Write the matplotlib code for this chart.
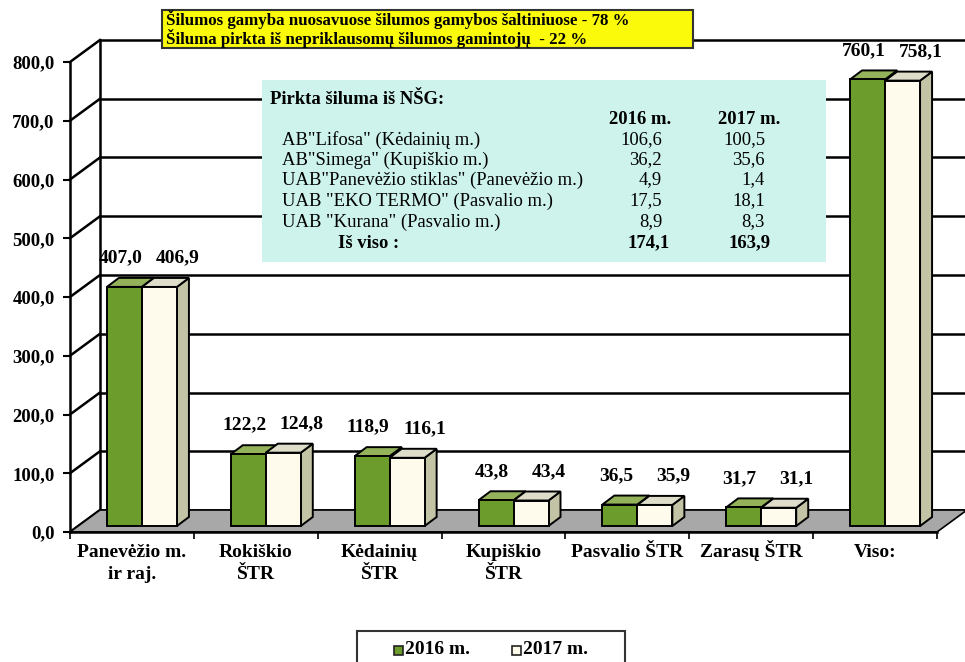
import matplotlib
matplotlib.use("Agg")
import matplotlib.pyplot as plt
from matplotlib.patches import Polygon, Rectangle
from matplotlib.transforms import blended_transform_factory
import numpy as np

# ---------------- data ----------------
categories = ["Panevėžio m.\nir raj.", "Rokiškio\nŠTR", "Kėdainių\nŠTR",
              "Kupiškio\nŠTR", "Pasvalio ŠTR", "Zarasų ŠTR", "Viso:"]
values_2016 = [407.0, 122.2, 118.9, 43.8, 36.5, 31.7, 760.1]
values_2017 = [406.9, 124.8, 116.1, 43.4, 35.9, 31.1, 758.1]
series_labels = ["2016 m.", "2017 m."]
y_ticks = [0, 100, 200, 300, 400, 500, 600, 700, 800]

summary_lines = ["Šilumos gamyba nuosavuose šilumos gamybos šaltiniuose - 78 %",
                 "Šiluma pirkta iš nepriklausomų šilumos gamintojų  - 22 %"]

nsg_title = "Pirkta šiluma iš NŠG:"
nsg_names = ['AB"Lifosa" (Kėdainių m.)', 'AB"Simega" (Kupiškio m.)',
             'UAB"Panevėžio stiklas" (Panevėžio m.)', 'UAB "EKO TERMO" (Pasvalio m.)',
             'UAB "Kurana" (Pasvalio m.)']
nsg_2016 = [106.6, 36.2, 4.9, 17.5, 8.9]
nsg_2017 = [100.5, 35.6, 1.4, 18.1, 8.3]
nsg_total_label = "Iš viso :"
nsg_total = [174.1, 163.9]


def fmt(v):
    return f"{v:.1f}".replace(".", ",")


# ---------------- style ----------------
plt.rcParams["font.family"] = ["Liberation Serif", "DejaVu Serif"]
GREEN, GREEN_TOP = "#6c9d2c", "#93b25a"
CREAM, CREAM_TOP, CREAM_SIDE = "#fffbec", "#deddca", "#c3c4a6"
FLOOR = "#a8a8a8"

W, H = 965, 662
fig = plt.figure(figsize=(W / 100, H / 100), dpi=100)
L, R, T, B = 70, 937, 62, 532
ax = fig.add_axes([L / W, 1 - B / H, (R - L) / W, (B - T) / H])
x0, x1 = -0.5, len(categories) - 0.5
ax.set_xlim(x0, x1)
ax.set_ylim(0, 800)
ax.patch.set_visible(False)

sx = (x1 - x0) / (R - L)
sy = 800 / (B - T)
WX, WY = 30 * sx, 22 * sy       # wall depth
BFX, BFY = 10 * sx, 6 * sy      # bar placement on floor
BDX, BDY = 12 * sx, 9 * sy      # bar depth
bw = 35 * sx

# back wall + side wall lines
for v in y_ticks:
    ax.plot([x0 + WX, x1 + WX], [v + WY, v + WY], color="black", lw=1.8,
            clip_on=False, zorder=1)
    ax.plot([x0, x0 + WX], [v, v + WY], color="black", lw=1.8, clip_on=False, zorder=1)
ax.plot([x0 + WX, x0 + WX], [WY, 800 + WY], color="black", lw=1.8, clip_on=False, zorder=1)

# floor
ax.add_patch(Polygon([(x0, 0), (x1, 0), (x1 + WX, WY), (x0 + WX, WY)], closed=True,
                     fc=FLOOR, ec="black", lw=1.2, zorder=2, clip_on=False))

# bars
for i, pair in enumerate(zip(values_2016, values_2017)):
    for j, v in enumerate(pair):
        front_c = GREEN if j == 0 else CREAM
        top_c = GREEN_TOP if j == 0 else CREAM_TOP
        side_c = GREEN if j == 0 else CREAM_SIDE
        xl = i + BFX + (j - 1) * bw
        xr = xl + bw
        yb, yt = BFY, v + BFY
        z = 3 + j
        ax.add_patch(Polygon([(xr, yb), (xr + BDX, yb + BDY), (xr + BDX, yt + BDY), (xr, yt)],
                             fc=side_c, ec="black", lw=1.4, zorder=z, clip_on=False))
        ax.add_patch(Polygon([(xl, yt), (xr, yt), (xr + BDX, yt + BDY), (xl + BDX, yt + BDY)],
                             fc=top_c, ec="black", lw=1.4, zorder=z, clip_on=False))
        ax.add_patch(Rectangle((xl, yb), bw, v, fc=front_c, ec="black", lw=1.4,
                               zorder=z, clip_on=False))
        lx = (xl + xr) / 2 + (-4 if j == 0 else 18) * sx
        ax.text(lx, yt + BDY + 20 * sy, fmt(v), ha="center", va="center",
                fontsize=14, fontweight="bold", zorder=8)

# axes / ticks
for s in ["top", "right"]:
    ax.spines[s].set_visible(False)
for s in ["left", "bottom"]:
    ax.spines[s].set_linewidth(1.8)
    ax.spines[s].set_zorder(6)
ax.set_yticks(y_ticks, [fmt(v) for v in y_ticks])
ax.tick_params(axis="y", length=5, width=1.5, pad=6, labelsize=13.5)
for lbl in ax.get_yticklabels():
    lbl.set_fontweight("bold")
ax.set_xticks([])
ax.set_xticks(np.arange(x0, x1 + 0.01, 1), minor=True)
ax.tick_params(axis="x", which="minor", length=5, width=1.2)

trans = blended_transform_factory(ax.transData, fig.transFigure)
for i, cat in enumerate(categories):
    for k, line in enumerate(cat.split("\n")):
        ax.text(i, 1 - (557 + 22 * k) / H, line, transform=trans, ha="center",
                va="baseline", fontsize=14, fontweight="bold")


def fx(px):
    return px / W


def fy(py):
    return 1 - py / H


# yellow summary box
fig.add_artist(Rectangle((fx(162), fy(48)), (693 - 162) / W, 38 / H, transform=fig.transFigure,
                         fc="#fafa0a", ec="#333333", lw=1.5, zorder=10))
for k, line in enumerate(summary_lines):
    fig.text(fx(166), fy(25 + 19 * k), line, va="baseline", ha="left", fontsize=12.2,
             fontweight="bold", zorder=11)

# NSG table box
fig.add_artist(Rectangle((fx(262), fy(262)), (826 - 262) / W, 182 / H, transform=fig.transFigure,
                         fc="#cdf3ec", ec="none", zorder=10))
fs = 13.4
fig.text(fx(270), fy(100), nsg_title, va="center", ha="left", fontsize=fs,
         fontweight="bold", zorder=11)
col1, col2 = 662, 765
fig.text(fx(640), fy(120), series_labels[0], va="center", ha="center", fontsize=fs,
         fontweight="bold", zorder=11)
fig.text(fx(749), fy(120), series_labels[1], va="center", ha="center", fontsize=fs,
         fontweight="bold", zorder=11)
row_y = [140, 160, 180, 201, 222]
for name, a, b, ry in zip(nsg_names, nsg_2016, nsg_2017, row_y):
    fig.text(fx(282), fy(ry), name, va="center", ha="left", fontsize=fs, zorder=11)
    fig.text(fx(col1), fy(ry), fmt(a), va="center", ha="right", fontsize=fs, zorder=11)
    fig.text(fx(col2), fy(ry), fmt(b), va="center", ha="right", fontsize=fs, zorder=11)
fig.text(fx(338), fy(243), nsg_total_label, va="center", ha="left", fontsize=fs,
         fontweight="bold", zorder=11)
fig.text(fx(col1 + 8), fy(243), fmt(nsg_total[0]), va="center", ha="right", fontsize=fs,
         fontweight="bold", zorder=11)
fig.text(fx(col2 + 5), fy(243), fmt(nsg_total[1]), va="center", ha="right", fontsize=fs,
         fontweight="bold", zorder=11)

# legend
fig.add_artist(Rectangle((fx(357), fy(672)), 268 / W, 41 / H, transform=fig.transFigure,
                         fc="white", ec="#333333", lw=1.5, zorder=10))
for k, (lab, col) in enumerate(zip(series_labels, [GREEN, CREAM])):
    mx = 394 + 118 * k
    fig.add_artist(Rectangle((fx(mx), fy(655)), 9 / W, 9 / H, transform=fig.transFigure,
                             fc=col, ec="#222222", lw=1.2, zorder=11))
    fig.text(fx(mx + 11), fy(650), lab, va="center", ha="left", fontsize=14,
             fontweight="bold", zorder=11)

fig.savefig("out.png", dpi=100)
